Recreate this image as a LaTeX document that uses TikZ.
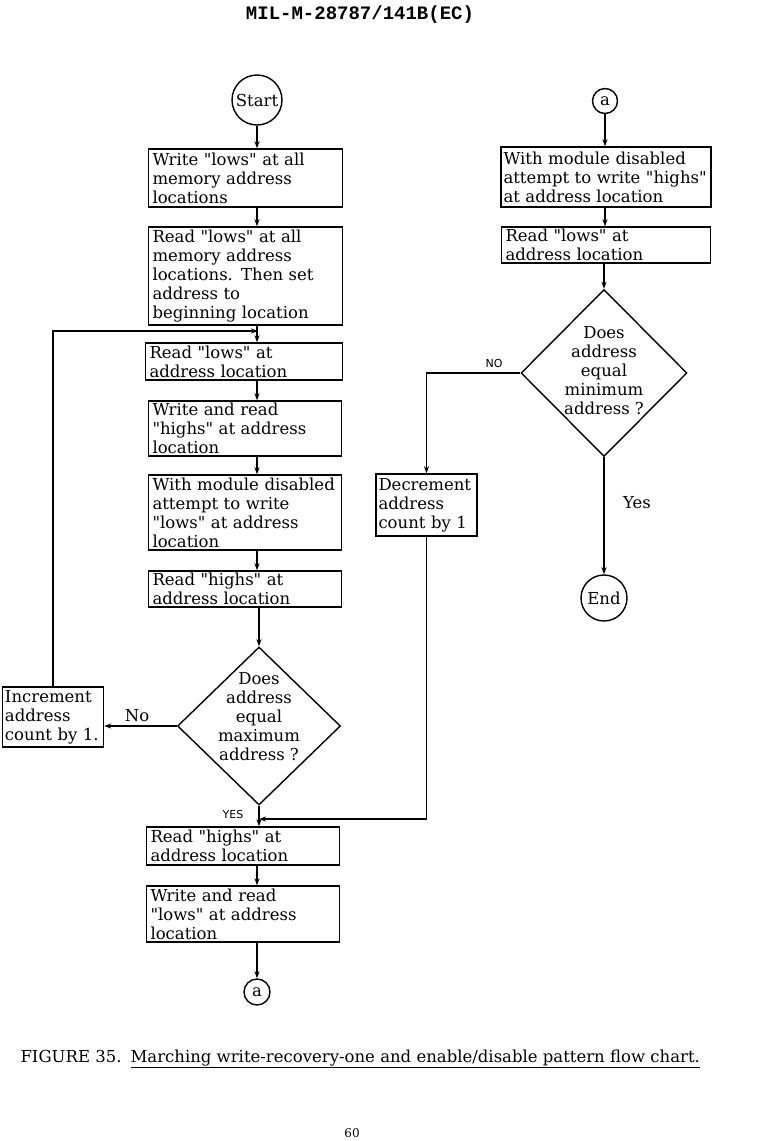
\documentclass[tikz,border=0pt]{standalone}
\usepackage{fontspec}
\usepackage{graphicx}
\setmainfont{DejaVu Serif}
\newfontfamily\hdrfont{Liberation Mono}
\newfontfamily\lblfont{DejaVu Sans}
\usetikzlibrary{arrows.meta,shapes.geometric}
\newcommand{\q}{\textquotedbl}
\newcommand{\dtext}[2]{\makebox[0pt]{\smash{\raisebox{#1}{\parbox{110pt}{\centering #2}}}}}
\tikzset{
  txt/.style={font=\fontsize{16.5}{19}\selectfont},
  procbox/.style={draw, line width=1.4pt, rectangle, inner xsep=4pt, inner ysep=0pt, align=left, txt},
  decis/.style={draw, line width=1.4pt, diamond, inner sep=0pt, align=center, txt},
  term/.style={draw, line width=1.4pt, circle, inner sep=0pt, txt},
  conn/.style={line width=1.3pt},
  arr/.style={conn, -{Stealth[length=7pt,width=5pt]}},
  sanslbl/.style={font=\lblfont\fontsize{11}{13}\selectfont},
  serlbl/.style={txt}
}
\begin{document}
\begin{tikzpicture}[x=1pt,y=-1pt]
\useasboundingbox (0,0) rectangle (765,1141);
\fill[white] (0,0) rectangle (765,1141);

\node[font=\hdrfont\bfseries\fontsize{19}{21}\selectfont] (hdr) at (360,15) {MIL-M-28787/141B(EC)};

% left column
\node[term, minimum size=50pt] (start) at (257,100) {Start};
\node[procbox, text width=186pt, minimum height=58pt] (b1) at (245.5,178) {Write \q lows\q{} at all\\memory address\\locations};
\node[procbox, text width=186pt, minimum height=98pt] (b2) at (245.5,276) {Read \q lows\q{} at all\\memory address\\locations.  Then set\\address to\\beginning location};
\node[procbox, text width=189pt, minimum height=37pt] (b3) at (244,361.5) {Read \q lows\q{} at\\address location};
\node[procbox, text width=185pt, minimum height=55pt] (b4) at (245,428.5) {Write and read\\\q highs\q{} at address\\location};
\node[procbox, text width=185pt, minimum height=75pt] (b5) at (245,512.5) {\mbox{With module disabled}\\attempt to write\\\q lows\q{} at address\\location};
\node[procbox, text width=185pt, minimum height=36pt] (b6) at (245,589) {Read \q highs\q{} at\\address location};
\node[decis, minimum width=163pt, minimum height=158pt] (d1) at (259,726) {\dtext{5pt}{Does\\address\\equal\\maximum\\address ?}};
\node[procbox, inner xsep=2.5pt, text width=96pt, minimum height=60pt] (inc) at (53,717) {Increment\\address\\\mbox{count by 1.}};
\node[procbox, text width=185pt, minimum height=38pt] (b7) at (243,846) {Read \q highs\q{} at\\address location};
\node[procbox, text width=185pt, minimum height=56pt] (b8) at (243,914) {Write and read\\\q lows\q{} at address\\location};
\node[term, minimum size=26pt] (a1) at (257,992) {a};

% right column
\node[term, minimum size=25pt] (ar) at (605,101) {a};
\node[procbox, inner xsep=2.5pt, text width=205pt, minimum height=60pt] (r1) at (606,177) {With module disabled\\\mbox{attempt to write \q highs\q}\\at address location};
\node[procbox, text width=201pt, minimum height=36pt] (r2) at (606,245) {Read \q lows\q{} at\\address location};
\node[decis, minimum width=166pt, minimum height=167pt] (d2) at (604,373) {\dtext{-2pt}{Does\\address\\equal\\minimum\\address ?}};
\node[procbox, inner xsep=2.5pt, text width=96pt, minimum height=62pt] (dec) at (426.5,505) {Decrement\\address\\count by 1};
\node[term, minimum size=46pt] (end) at (604,598) {End};

% junction coordinates
\coordinate (loopj) at (258,331);
\coordinate (yesj) at (259,819);

% connectors left
\draw[arr] (start.south) -- (start.south |- b1.north);
\draw[arr] (b1.south -| start.south) -- (b2.north -| start.south);
\draw[arr] (b2.south -| start.south) -- (b3.north -| start.south);
\draw[arr] (b3.south -| start.south) -- (b4.north -| start.south);
\draw[arr] (b4.south -| start.south) -- (b5.north -| start.south);
\draw[arr] (b5.south -| start.south) -- (b6.north -| start.south);
\draw[arr] (b6.south -| d1.north) -- (d1.north);
\draw[arr] (d1.west) -- (d1.west -| inc.east);
\draw[arr] (inc.north) |- (loopj);
\draw[arr] (d1.south) -- (d1.south |- b7.north);
\draw[arr] (dec.south) |- (yesj);
\draw[arr] (b7.south -| a1.north) -- (b8.north -| a1.north);
\draw[arr] (b8.south -| a1.north) -- (a1.north);

% connectors right
\draw[arr] (ar.south) -- (ar.south |- r1.north);
\draw[arr] (r1.south -| ar.south) -- (r2.north -| ar.south);
\draw[arr] (r2.south -| d2.north) -- (d2.north);
\draw[arr] (d2.west) -| (dec.north);
\draw[arr] (d2.south) -- (end.north);

% labels
\node[serlbl] (lno) at (137,716) {No};
\node[sanslbl] (lyes) at (233,814) {YES};
\node[sanslbl] (lNO) at (494,363) {NO};
\node[serlbl] (lYes) at (637,503) {Yes};

% caption
\node[txt, anchor=base west] (fig) at (17,1062) {FIGURE 35.};
\node[txt, anchor=base west] (cap) at (127,1062) {\underline{Marching write-recovery-one and enable/disable pattern flow chart.}};
\node[font=\fontsize{12}{14}\selectfont, anchor=north] (pg) at (352,1125) {60};
\end{tikzpicture}
\end{document}
